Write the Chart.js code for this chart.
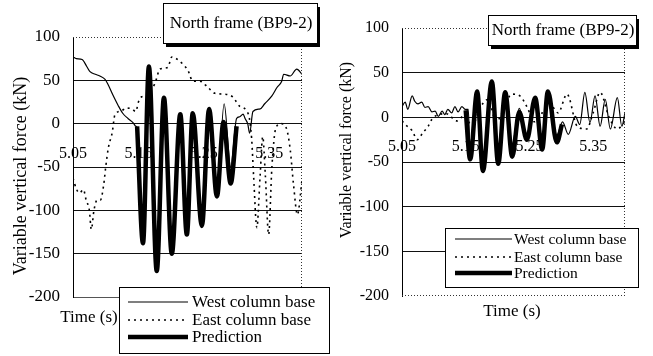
<!DOCTYPE html>
<html><head><meta charset="utf-8">
<script src="https://cdn.jsdelivr.net/npm/chart.js@4/dist/chart.umd.min.js"></script>
<style>
html,body{margin:0;padding:0;background:#fff;width:653px;height:356px;overflow:hidden}
canvas{position:absolute;top:0}
#c1{left:0}
#c2{left:330px}
</style></head><body>
<canvas id="c1" width="330" height="356"></canvas>
<canvas id="c2" width="323" height="356"></canvas>
<script>
// ---------- text / ticks ----------
const xTickLabels = [5.05, 5.15, 5.25, 5.35];
const yTickLabels = [-200, -150, -100, -50, 0, 50, 100];
const seriesNames = ['West column base', 'East column base', 'Prediction'];
const panelTitle = 'North frame (BP9-2)';
const yTitle = 'Variable vertical force (kN)';
const xTitle = 'Time (s)';

// ---------- left panel data ----------
const leftWestTime = [5.050,5.055,5.064,5.071,5.076,5.084,5.091,5.099,5.103,5.111,5.119,5.126,5.134,5.142,5.146,5.149,5.157,5.166,5.178,5.189,5.201,5.214,5.224,5.233,5.247,5.258,5.270,5.281,5.291,5.300,5.305,5.310,5.313,5.317,5.320,5.325,5.336,5.343,5.354,5.362,5.369,5.372,5.382,5.392,5.400];
const leftWestForce = [77,75,74,66,60,57,55,51,46,33,21,12,6,1,-3,-6,-138,66,-170,30,-150,11,-128,12,-118,17,-84,23,-50,6,8,11,6,0,-11,14,17,23,32,42,49,57,55,63,57];
const leftEastTime = [5.050,5.055,5.060,5.066,5.070,5.075,5.078,5.082,5.087,5.092,5.097,5.100,5.104,5.110,5.114,5.125,5.130,5.140,5.146,5.150,5.155,5.160,5.175,5.183,5.195,5.201,5.213,5.226,5.233,5.244,5.256,5.267,5.282,5.294,5.305,5.318,5.323,5.326,5.331,5.336,5.340,5.344,5.349,5.354,5.360,5.368,5.376,5.382,5.387,5.393,5.400];
const leftEastForce = [-63,-75,-80,-76,-88,-100,-122,-100,-88,-88,-70,-50,-28,-10,10,15,18,17,14,25,31,32,46,63,65,77,72,61,49,49,42,35,34,31,20,11,-17,-60,-120,-60,-15,-60,-128,-50,-5,0,-5,-30,-70,-105,-65];
const leftPredictionTime = [5.148,5.157,5.166,5.178,5.189,5.201,5.214,5.224,5.233,5.247,5.258,5.270,5.280,5.291,5.300];
const leftPredictionForce = [-3,-138,66,-170,30,-150,11,-128,12,-118,17,-84,2,-69,-3];

// ---------- right panel data ----------
const rightWestTime = [5.050,5.055,5.059,5.066,5.070,5.075,5.081,5.086,5.091,5.097,5.102,5.107,5.113,5.117,5.122,5.128,5.133,5.138,5.144,5.149,5.154,5.157,5.168,5.177,5.191,5.201,5.212,5.223,5.234,5.246,5.259,5.270,5.279,5.293,5.302,5.311,5.322,5.329,5.337,5.345,5.353,5.361,5.369,5.377,5.388,5.395,5.400];
const rightWestForce = [12,17,9,24,18,15,17,11,12,6,7,1,7,3,9,5,12,6,12,9,9,-40,25,-55,35,-45,22,-30,10,-20,15,-25,20,-20,-5,-19,1,-8,28,-6,24,-10,20,-13,22,-10,5];
const rightEastTime = [5.050,5.055,5.066,5.074,5.083,5.091,5.097,5.107,5.120,5.136,5.148,5.160,5.172,5.185,5.198,5.210,5.222,5.235,5.246,5.258,5.270,5.282,5.295,5.309,5.325,5.340,5.350,5.361,5.375,5.388,5.400];
const rightEastForce = [-4,-8,-15,-25,-17,-10,-2,3,4,-4,2,-10,10,20,-5,10,26,24,12,-5,5,15,5,26,-10,-13,5,28,0,-13,-5];
const rightPredictionTime = [5.150,5.157,5.168,5.177,5.191,5.201,5.212,5.223,5.234,5.246,5.259,5.270,5.279,5.293,5.301];
const rightPredictionForce = [8,-47,29,-60,40,-52,28,-44,6,-25,22,-36,29,-28,-8];

// ---------- helpers ----------
const SERIF = '"Liberation Serif", "Times New Roman", serif';
Chart.defaults.font.family = SERIF;
Chart.defaults.color = '#000';

function pts(t, v) { return t.map((x, i) => ({ x: x, y: v[i] })); }

function decorPlugin(L) {
  return {
    id: 'decor',
    afterDraw(chart) {
      const ctx = chart.ctx, a = chart.chartArea;
      ctx.save();
      ctx.strokeStyle = '#333';
      ctx.lineWidth = 1;
      ctx.setLineDash([1, 2]);
      ctx.beginPath();
      ctx.moveTo(a.left, a.top + 0.5); ctx.lineTo(a.right, a.top + 0.5);
      ctx.moveTo(a.right - 0.5, a.top); ctx.lineTo(a.right - 0.5, a.bottom);
      if (L.dottedBottom) { ctx.moveTo(a.left, a.bottom - 0.5); ctx.lineTo(a.right, a.bottom - 0.5); }
      ctx.stroke();
      ctx.setLineDash([]);

      ctx.save();
      ctx.translate(L.yTitle.x, L.yTitle.y);
      ctx.rotate(-Math.PI / 2);
      ctx.font = L.yTitle.size + 'px ' + SERIF;
      ctx.fillStyle = '#000';
      ctx.textAlign = 'center'; ctx.textBaseline = 'middle';
      ctx.fillText(yTitle, 0, 0);
      ctx.restore();

      ctx.font = L.xTitle.size + 'px ' + SERIF;
      ctx.fillStyle = '#000';
      ctx.textAlign = 'center'; ctx.textBaseline = 'middle';
      ctx.fillText(xTitle, L.xTitle.x, L.xTitle.y);

      const t = L.titleBox;
      ctx.fillStyle = '#000';
      ctx.fillRect(t.x + 3, t.y + 4, t.w, t.h);
      ctx.fillStyle = '#fff';
      ctx.fillRect(t.x, t.y, t.w, t.h);
      ctx.strokeStyle = '#000'; ctx.lineWidth = 1;
      ctx.strokeRect(t.x + 0.5, t.y + 0.5, t.w, t.h);
      ctx.fillStyle = '#000';
      ctx.font = t.size + 'px ' + SERIF;
      ctx.textAlign = 'center'; ctx.textBaseline = 'middle';
      ctx.fillText(panelTitle, t.x + t.w / 2 + 1, t.y + t.h / 2 + 1);

      const g = L.legend;
      ctx.fillStyle = '#fff';
      ctx.fillRect(g.x, g.y, g.w, g.h);
      ctx.strokeStyle = '#000'; ctx.lineWidth = 1;
      ctx.strokeRect(g.x + 0.5, g.y + 0.5, g.w, g.h);
      ctx.font = g.size + 'px ' + SERIF;
      ctx.textAlign = 'left'; ctx.textBaseline = 'middle';
      chart.data.datasets.forEach((ds, i) => {
        const y = g.rows[i];
        ctx.strokeStyle = ds.borderColor;
        ctx.lineWidth = ds.borderWidth;
        ctx.setLineDash(ds.borderDash || []);
        ctx.beginPath();
        ctx.moveTo(g.lineX0, y); ctx.lineTo(g.lineX1, y);
        ctx.stroke();
        ctx.setLineDash([]);
        ctx.fillStyle = '#000';
        ctx.fillText(ds.label, g.textX, y + 1);
      });
      ctx.restore();
    }
  };
}

function makePanel(id, west, east, pred, L) {
  return new Chart(document.getElementById(id), {
    type: 'line',
    data: {
      datasets: [
        { label: seriesNames[0], data: west, borderColor: '#000', borderWidth: 1.2, pointRadius: 0, cubicInterpolationMode: 'monotone', order: 0 },
        { label: seriesNames[1], data: east, borderColor: '#000', borderWidth: 1.6, borderDash: [2, 4], pointRadius: 0, cubicInterpolationMode: 'monotone', order: 1 },
        { label: seriesNames[2], data: pred, borderColor: '#000', borderWidth: 4.5, pointRadius: 0, cubicInterpolationMode: 'monotone', order: 2 }
      ]
    },
    options: {
      responsive: false,
      animation: false,
      events: [],
      layout: { padding: L.padding },
      plugins: { legend: { display: false }, tooltip: { enabled: false }, title: { display: false } },
      scales: {
        x: {
          type: 'linear',
          min: 5.05, max: 5.40,
          position: { y: 0 },
          afterBuildTicks: (s) => { s.ticks = xTickLabels.map(v => ({ value: v })); },
          ticks: { font: { size: 16 }, color: '#000', padding: L.xTickPad, maxRotation: 0, autoSkip: false, callback: (v) => Number(v).toFixed(2) },
          grid: { display: false, drawTicks: false },
          border: { display: false }
        },
        y: {
          type: 'linear',
          min: -200, max: 100,
          afterBuildTicks: (s) => { s.ticks = yTickLabels.map(v => ({ value: v })); },
          afterFit: (s) => { s.width = L.yAxisWidth; },
          ticks: { font: { size: L.yTickSize }, color: '#000', padding: 13 },
          grid: {
            drawTicks: false,
            lineWidth: 1,
            color: (c) => {
              const v = c.tick && c.tick.value;
              if (v === 100) return 'rgba(0,0,0,0)';
              if (v === -200) return L.dottedBottom ? 'rgba(0,0,0,0)' : '#555';
              return '#111';
            }
          },
          border: { display: true, color: '#000', width: 1 }
        }
      }
    },
    plugins: [decorPlugin(L)]
  });
}

makePanel('c1',
  pts(leftWestTime, leftWestForce),
  pts(leftEastTime, leftEastForce),
  pts(leftPredictionTime, leftPredictionForce),
  {
    padding: { left: 0, top: 37, right: 28, bottom: 59 },
    yAxisWidth: 73, yTickSize: 17, xTickPad: 21, dottedBottom: false,
    yTitle: { x: 21, y: 176, size: 18 },
    xTitle: { x: 89, y: 318, size: 17 },
    titleBox: { x: 163, y: 3, w: 154, h: 40, size: 17 },
    legend: { x: 119, y: 287, w: 210, h: 66, size: 17, rows: [302, 320, 337], lineX0: 128, lineX1: 188, textX: 192 }
  });

makePanel('c2',
  pts(rightWestTime, rightWestForce),
  pts(rightEastTime, rightEastForce),
  pts(rightPredictionTime, rightPredictionForce),
  {
    padding: { left: 0, top: 28, right: 28, bottom: 60 },
    yAxisWidth: 72, yTickSize: 16, xTickPad: 20, dottedBottom: true,
    yTitle: { x: 17, y: 150, size: 16 },
    xTitle: { x: 182, y: 312, size: 17 },
    titleBox: { x: 158, y: 15, w: 148, h: 30, size: 17 },
    legend: { x: 115, y: 228, w: 193, h: 59, size: 15.5, rows: [239, 257, 273], lineX0: 125, lineX1: 182, textX: 184 }
  });
</script>
</body></html>
